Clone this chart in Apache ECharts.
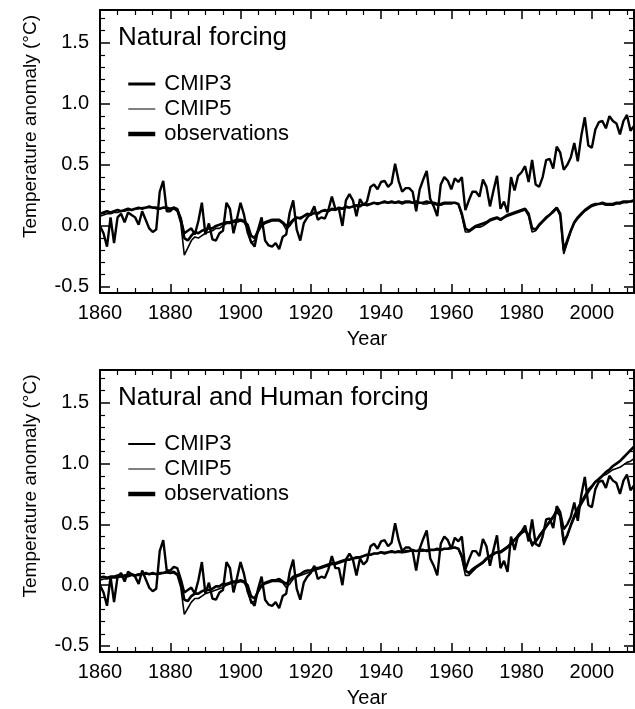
<!DOCTYPE html>
<html>
<head>
<meta charset="utf-8">
<script src="https://cdn.jsdelivr.net/npm/echarts@6/dist/echarts.min.js"></script>
<style>
html,body{margin:0;padding:0;background:#fff;}
#chart{width:635px;height:709px;}
</style>
</head>
<body>
<div id="chart"></div>
<script>
// ---------------- data (annual values, 1860-2012) ----------------
const startYear = 1860;
const endYear = 2012;

const panelTitles = ['Natural forcing', 'Natural and Human forcing'];
const seriesNames = ['CMIP3', 'CMIP5', 'observations'];

const xTicks = [1860, 1880, 1900, 1920, 1940, 1960, 1980, 2000];
const xMinorTicks = [1865, 1870, 1875, 1885, 1890, 1895, 1905, 1910, 1915, 1925, 1930, 1935,
  1945, 1950, 1955, 1965, 1970, 1975, 1985, 1990, 1995, 2005, 2010];
const yTicks = [-0.5, 0.0, 0.5, 1.0, 1.5];
const yMinorTicks = [-0.4, -0.3, -0.2, -0.1, 0.1, 0.2, 0.3, 0.4, 0.6, 0.7, 0.8, 0.9,
  1.1, 1.2, 1.3, 1.4, 1.6, 1.7];

const observations = [
  0.00, -0.06, -0.17, 0.07, -0.14, 0.07, 0.10, 0.03, 0.11, 0.09,
  0.07, 0.01, 0.12, 0.05, -0.02, -0.05, -0.03, 0.28, 0.37, 0.12,
  0.12, 0.15, 0.14, 0.05, -0.06, -0.04, -0.02, -0.07, 0.04, 0.19,
  -0.07, 0.02, -0.11, -0.12, -0.06, -0.04, 0.19, 0.14, -0.06, 0.06,
  0.19, 0.09, -0.05, -0.13, -0.17, -0.03, 0.07, -0.12, -0.16, -0.17,
  -0.14, -0.19, -0.09, -0.07, 0.11, 0.21, -0.03, -0.12, 0.02, 0.07,
  0.10, 0.16, 0.05, 0.07, 0.06, 0.13, 0.24, 0.14, 0.14, 0.00,
  0.21, 0.26, 0.21, 0.08, 0.22, 0.17, 0.20, 0.32, 0.34, 0.30,
  0.36, 0.37, 0.32, 0.35, 0.51, 0.37, 0.28, 0.31, 0.31, 0.28,
  0.12, 0.30, 0.38, 0.45, 0.22, 0.16, 0.08, 0.34, 0.40, 0.37,
  0.30, 0.39, 0.36, 0.40, 0.13, 0.21, 0.28, 0.28, 0.24, 0.38,
  0.32, 0.16, 0.29, 0.41, 0.14, 0.20, 0.11, 0.40, 0.29, 0.41,
  0.44, 0.49, 0.36, 0.54, 0.34, 0.32, 0.40, 0.54, 0.55, 0.47,
  0.65, 0.60, 0.46, 0.50, 0.56, 0.68, 0.53, 0.74, 0.89, 0.66,
  0.64, 0.79, 0.85, 0.86, 0.80, 0.90, 0.86, 0.84, 0.75, 0.86,
  0.91, 0.78, 0.82
];

const naturalCMIP3 = [
  0.10, 0.11, 0.12, 0.11, 0.12, 0.13, 0.12, 0.13, 0.14, 0.13,
  0.14, 0.15, 0.14, 0.15, 0.16, 0.15, 0.15, 0.14, 0.15, 0.15,
  0.14, 0.15, 0.13, 0.06, -0.10, -0.12, -0.08, -0.05, -0.06, -0.04,
  -0.03, -0.02, -0.02, 0.00, 0.01, 0.02, 0.03, 0.03, 0.04, 0.05,
  0.05, 0.04, 0.01, -0.08, -0.10, -0.04, 0.01, 0.03, 0.04, 0.05,
  0.05, 0.05, 0.03, 0.00, 0.02, 0.05, 0.07, 0.06, 0.08, 0.10,
  0.09, 0.11, 0.10, 0.12, 0.13, 0.12, 0.14, 0.13, 0.15, 0.14,
  0.16, 0.15, 0.16, 0.17, 0.16, 0.18, 0.17, 0.18, 0.19, 0.18,
  0.19, 0.20, 0.19, 0.20, 0.19, 0.20, 0.19, 0.20, 0.20, 0.19,
  0.20, 0.19, 0.19, 0.20, 0.19, 0.19, 0.18, 0.18, 0.19, 0.19,
  0.19, 0.19, 0.18, 0.10, -0.02, -0.04, -0.02, 0.00, 0.01, 0.02,
  0.03, 0.05, 0.06, 0.07, 0.05, 0.07, 0.09, 0.10, 0.11, 0.12,
  0.13, 0.14, 0.10, -0.02, -0.03, 0.01, 0.04, 0.07, 0.09, 0.12,
  0.15, 0.10, -0.20, -0.12, -0.04, 0.03, 0.07, 0.10, 0.13, 0.15,
  0.17, 0.18, 0.18, 0.19, 0.18, 0.18, 0.18, 0.19, 0.19, 0.20,
  0.20, 0.20, 0.21
];

const naturalCMIP5 = [
  0.08, 0.09, 0.10, 0.10, 0.11, 0.11, 0.12, 0.12, 0.13, 0.13,
  0.14, 0.14, 0.15, 0.15, 0.15, 0.15, 0.14, 0.14, 0.15, 0.14,
  0.14, 0.14, 0.12, 0.02, -0.24, -0.18, -0.12, -0.09, -0.10, -0.08,
  -0.06, -0.05, -0.04, -0.02, -0.02, 0.00, 0.02, 0.02, 0.03, 0.03,
  0.04, 0.03, -0.02, -0.14, -0.12, -0.05, 0.00, 0.02, 0.03, 0.04,
  0.04, 0.04, 0.02, -0.03, 0.00, 0.04, 0.06, 0.07, 0.08, 0.09,
  0.10, 0.10, 0.11, 0.12, 0.12, 0.13, 0.13, 0.13, 0.14, 0.14,
  0.15, 0.15, 0.16, 0.16, 0.17, 0.17, 0.18, 0.18, 0.19, 0.19,
  0.19, 0.19, 0.19, 0.19, 0.19, 0.19, 0.18, 0.19, 0.19, 0.19,
  0.19, 0.19, 0.18, 0.18, 0.19, 0.18, 0.17, 0.17, 0.18, 0.18,
  0.18, 0.19, 0.18, 0.08, -0.05, -0.05, -0.03, -0.01, -0.01, 0.00,
  0.02, 0.04, 0.05, 0.06, 0.06, 0.07, 0.08, 0.09, 0.10, 0.11,
  0.12, 0.13, 0.08, -0.05, -0.04, 0.00, 0.03, 0.06, 0.09, 0.11,
  0.14, 0.08, -0.23, -0.14, -0.05, 0.02, 0.06, 0.09, 0.12, 0.14,
  0.16, 0.17, 0.18, 0.18, 0.17, 0.17, 0.17, 0.18, 0.18, 0.19,
  0.19, 0.20, 0.20
];

const allForcingCMIP3 = [
  0.06, 0.07, 0.06, 0.07, 0.07, 0.08, 0.07, 0.08, 0.08, 0.09,
  0.08, 0.09, 0.09, 0.10, 0.09, 0.10, 0.09, 0.10, 0.10, 0.11,
  0.10, 0.11, 0.09, 0.03, -0.12, -0.13, -0.09, -0.07, -0.07, -0.05,
  -0.04, -0.04, -0.03, -0.01, -0.01, 0.01, 0.01, 0.02, 0.03, 0.03,
  0.04, 0.03, 0.00, -0.09, -0.11, -0.05, 0.00, 0.02, 0.03, 0.04,
  0.04, 0.05, 0.03, 0.01, 0.04, 0.07, 0.08, 0.09, 0.11, 0.12,
  0.12, 0.14, 0.14, 0.15, 0.16, 0.17, 0.18, 0.18, 0.19, 0.20,
  0.21, 0.21, 0.22, 0.23, 0.23, 0.24, 0.25, 0.25, 0.26, 0.26,
  0.27, 0.26, 0.27, 0.28, 0.27, 0.28, 0.27, 0.28, 0.28, 0.29,
  0.28, 0.29, 0.29, 0.28, 0.29, 0.29, 0.30, 0.29, 0.30, 0.30,
  0.31, 0.31, 0.30, 0.24, 0.12, 0.10, 0.13, 0.15, 0.17, 0.19,
  0.22, 0.24, 0.26, 0.27, 0.27, 0.29, 0.31, 0.34, 0.37, 0.40,
  0.43, 0.45, 0.41, 0.34, 0.36, 0.40, 0.44, 0.48, 0.52, 0.56,
  0.61, 0.57, 0.36, 0.41, 0.49, 0.56, 0.62, 0.67, 0.72, 0.77,
  0.81, 0.85, 0.87, 0.90, 0.93, 0.95, 0.98, 1.00, 1.02, 1.05,
  1.08, 1.11, 1.14
];

const allForcingCMIP5 = [
  0.04, 0.05, 0.05, 0.06, 0.06, 0.06, 0.07, 0.07, 0.07, 0.08,
  0.08, 0.08, 0.09, 0.09, 0.09, 0.09, 0.09, 0.09, 0.10, 0.10,
  0.10, 0.10, 0.08, -0.02, -0.24, -0.19, -0.14, -0.11, -0.11, -0.09,
  -0.07, -0.06, -0.05, -0.04, -0.03, -0.02, 0.00, 0.01, 0.02, 0.02,
  0.03, 0.02, -0.03, -0.15, -0.13, -0.06, -0.01, 0.01, 0.02, 0.03,
  0.03, 0.03, 0.02, -0.02, 0.01, 0.05, 0.07, 0.08, 0.09, 0.10,
  0.11, 0.12, 0.13, 0.14, 0.15, 0.16, 0.17, 0.17, 0.18, 0.19,
  0.20, 0.21, 0.22, 0.22, 0.23, 0.24, 0.25, 0.25, 0.26, 0.26,
  0.27, 0.27, 0.27, 0.27, 0.27, 0.27, 0.27, 0.27, 0.28, 0.28,
  0.28, 0.28, 0.28, 0.29, 0.29, 0.29, 0.29, 0.29, 0.30, 0.30,
  0.30, 0.31, 0.30, 0.22, 0.08, 0.08, 0.11, 0.14, 0.16, 0.18,
  0.21, 0.23, 0.25, 0.27, 0.28, 0.30, 0.32, 0.35, 0.38, 0.41,
  0.44, 0.46, 0.40, 0.32, 0.36, 0.41, 0.45, 0.49, 0.53, 0.57,
  0.62, 0.57, 0.33, 0.40, 0.50, 0.58, 0.64, 0.69, 0.74, 0.79,
  0.82, 0.85, 0.88, 0.90, 0.91, 0.93, 0.95, 0.96, 0.97, 0.99,
  1.01, 1.02, 1.04
];

// ---------------- chart ----------------
const FONT = '"Liberation Sans", Arial, Helvetica, sans-serif';
const BLACK = '#000';
const GRID_LEFT = 100, GRID_WIDTH = 534, GRID_HEIGHT = 283;
const Y_MIN = -0.55, Y_MAX = 1.77;

const panels = [
  { top: 10, title: panelTitles[0], m3: naturalCMIP3, m5: naturalCMIP5, legendW3: 3 },
  { top: 370, title: panelTitles[1], m3: allForcingCMIP3, m5: allForcingCMIP5, legendW3: 2 }
];

function pairs(values) {
  return values.map((v, i) => [startYear + i, v]);
}

function xAxesFor(gi) {
  const base = { type: 'value', gridIndex: gi, min: startYear, max: endYear, splitLine: { show: false } };
  const majorTick = { show: true, inside: true, length: 9, customValues: xTicks, lineStyle: { color: BLACK, width: 1.5 } };
  const minorTick = { show: true, inside: true, length: 5, customValues: xMinorTicks, lineStyle: { color: BLACK, width: 1.2 } };
  return [
    Object.assign({}, base, {
      position: 'bottom',
      axisLine: { show: true, onZero: false, lineStyle: { color: BLACK, width: 2 } },
      axisTick: majorTick,
      axisLabel: { show: true, customValues: xTicks, color: BLACK, fontSize: 20, margin: 10, fontFamily: FONT,
        formatter: v => String(v) },
      name: 'Year', nameLocation: 'middle', nameGap: 36,
      nameTextStyle: { color: BLACK, fontSize: 20, fontFamily: FONT }
    }),
    Object.assign({}, base, {
      position: 'bottom',
      axisLine: { show: false, onZero: false },
      axisTick: minorTick, axisLabel: { show: false }
    }),
    Object.assign({}, base, {
      position: 'top',
      axisLine: { show: true, onZero: false, lineStyle: { color: BLACK, width: 2 } },
      axisTick: majorTick, axisLabel: { show: false }
    }),
    Object.assign({}, base, {
      position: 'top',
      axisLine: { show: false, onZero: false },
      axisTick: minorTick, axisLabel: { show: false }
    })
  ];
}

function yAxesFor(gi) {
  const base = { type: 'value', gridIndex: gi, min: Y_MIN, max: Y_MAX, splitLine: { show: false } };
  const majorTick = { show: true, inside: true, length: 10, customValues: yTicks, lineStyle: { color: BLACK, width: 1.5 } };
  const minorTick = { show: true, inside: true, length: 5, customValues: yMinorTicks, lineStyle: { color: BLACK, width: 1.2 } };
  return [
    Object.assign({}, base, {
      position: 'left',
      axisLine: { show: true, onZero: false, lineStyle: { color: BLACK, width: 2 } },
      axisTick: majorTick,
      axisLabel: { show: true, customValues: yTicks, color: BLACK, fontSize: 20, margin: 11, fontFamily: FONT,
        formatter: v => v.toFixed(1) },
      name: 'Temperature anomaly (°C)', nameLocation: 'middle', nameGap: 60,
      nameTextStyle: { color: BLACK, fontSize: 19, fontFamily: FONT, padding: [0, 0, 0, 50] }
    }),
    Object.assign({}, base, {
      position: 'left',
      axisLine: { show: false, onZero: false },
      axisTick: minorTick, axisLabel: { show: false }
    }),
    Object.assign({}, base, {
      position: 'right',
      axisLine: { show: true, onZero: false, lineStyle: { color: BLACK, width: 2 } },
      axisTick: majorTick, axisLabel: { show: false }
    }),
    Object.assign({}, base, {
      position: 'right',
      axisLine: { show: false, onZero: false },
      axisTick: minorTick, axisLabel: { show: false }
    })
  ];
}

const hiddenSymbol = { opacity: 0, color: 'rgba(0,0,0,0)', borderWidth: 0 };

const option = {
  animation: false,
  backgroundColor: '#fff',
  textStyle: { fontFamily: FONT, color: BLACK },
  title: panels.map(p => ({
    text: p.title, left: 118, top: p.top + 15, padding: 0,
    textStyle: { fontSize: 26, fontWeight: 'normal', color: BLACK, fontFamily: FONT }
  })),
  legend: panels.map((p, gi) => ({
    orient: 'vertical', left: 126, top: p.top + 63, padding: 0,
    itemWidth: 27, itemHeight: 14, itemGap: 3, selectedMode: false,
    textStyle: { fontSize: 22, lineHeight: 18, color: BLACK, fontFamily: FONT, padding: [0, 0, 0, 4] },
    data: [
      { name: seriesNames[0], itemStyle: hiddenSymbol, lineStyle: { width: p.legendW3, color: BLACK } },
      { name: seriesNames[1], itemStyle: hiddenSymbol, lineStyle: { width: 1, color: BLACK } },
      { name: seriesNames[2], itemStyle: hiddenSymbol, lineStyle: { width: 4.5, color: BLACK } }
    ]
  })),
  grid: panels.map(p => ({ left: GRID_LEFT, top: p.top, width: GRID_WIDTH, height: GRID_HEIGHT })),
  xAxis: [].concat(xAxesFor(0), xAxesFor(1)),
  yAxis: [].concat(yAxesFor(0), yAxesFor(1)),
  series: []
};

panels.forEach((p, gi) => {
  const common = { type: 'line', xAxisIndex: gi * 4, yAxisIndex: gi * 4, symbol: 'none', showSymbol: false,
    smooth: false, silent: true, itemStyle: { color: BLACK } };
  option.series.push(Object.assign({}, common, { name: seriesNames[0], data: pairs(p.m3), lineStyle: { color: BLACK, width: 2.6 }, z: 3 }));
  option.series.push(Object.assign({}, common, { name: seriesNames[1], data: pairs(p.m5), lineStyle: { color: BLACK, width: 1.6 }, z: 4 }));
  option.series.push(Object.assign({}, common, { name: seriesNames[2], data: pairs(observations), lineStyle: { color: BLACK, width: 2.4 }, z: 5 }));
});

const chart = echarts.init(document.getElementById('chart'), null, { renderer: 'canvas' });
chart.setOption(option);
</script>
</body>
</html>
